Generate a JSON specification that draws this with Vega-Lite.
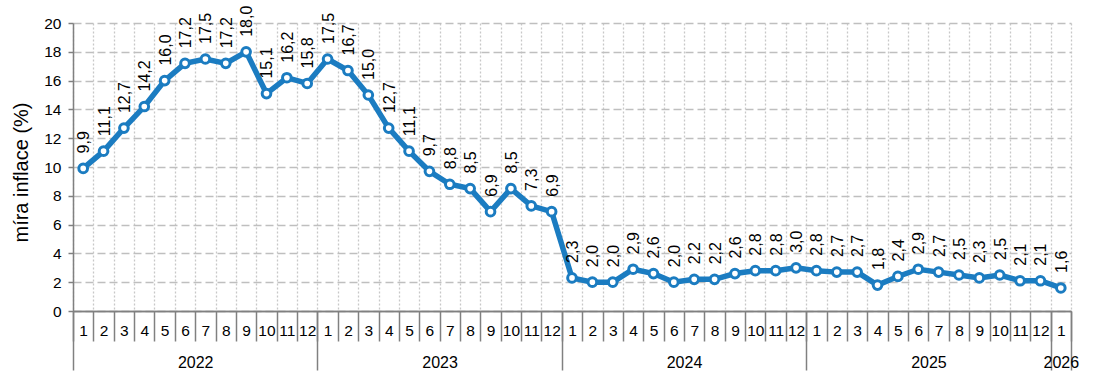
{
  "$schema": "https://vega.github.io/schema/vega-lite/v6.json",
  "width": 998,
  "height": 288,
  "autosize": {"type": "none"},
  "padding": {"left": 73, "top": 23, "right": 24, "bottom": 71},
  "config": {
    "view": {"stroke": null},
    "font": "Liberation Sans",
    "locale": {"number": {"decimal": ",", "thousands": " ", "grouping": [3], "currency": ["", " Kč"]}},
    "axis": {"labelColor": "#000000", "titleColor": "#000000", "domainColor": "#808080", "domainWidth": 1.5, "tickColor": "#808080", "tickWidth": 1.5}
  },
  "data": {"values": [
    {"period": "2022-01", "v": 9.9}, {"period": "2022-02", "v": 11.1}, {"period": "2022-03", "v": 12.7}, {"period": "2022-04", "v": 14.2},
    {"period": "2022-05", "v": 16.0}, {"period": "2022-06", "v": 17.2}, {"period": "2022-07", "v": 17.5}, {"period": "2022-08", "v": 17.2},
    {"period": "2022-09", "v": 18.0}, {"period": "2022-10", "v": 15.1}, {"period": "2022-11", "v": 16.2}, {"period": "2022-12", "v": 15.8},
    {"period": "2023-01", "v": 17.5}, {"period": "2023-02", "v": 16.7}, {"period": "2023-03", "v": 15.0}, {"period": "2023-04", "v": 12.7},
    {"period": "2023-05", "v": 11.1}, {"period": "2023-06", "v": 9.7}, {"period": "2023-07", "v": 8.8}, {"period": "2023-08", "v": 8.5},
    {"period": "2023-09", "v": 6.9}, {"period": "2023-10", "v": 8.5}, {"period": "2023-11", "v": 7.3}, {"period": "2023-12", "v": 6.9},
    {"period": "2024-01", "v": 2.3}, {"period": "2024-02", "v": 2.0}, {"period": "2024-03", "v": 2.0}, {"period": "2024-04", "v": 2.9},
    {"period": "2024-05", "v": 2.6}, {"period": "2024-06", "v": 2.0}, {"period": "2024-07", "v": 2.2}, {"period": "2024-08", "v": 2.2},
    {"period": "2024-09", "v": 2.6}, {"period": "2024-10", "v": 2.8}, {"period": "2024-11", "v": 2.8}, {"period": "2024-12", "v": 3.0},
    {"period": "2025-01", "v": 2.8}, {"period": "2025-02", "v": 2.7}, {"period": "2025-03", "v": 2.7}, {"period": "2025-04", "v": 1.8},
    {"period": "2025-05", "v": 2.4}, {"period": "2025-06", "v": 2.9}, {"period": "2025-07", "v": 2.7}, {"period": "2025-08", "v": 2.5},
    {"period": "2025-09", "v": 2.3}, {"period": "2025-10", "v": 2.5}, {"period": "2025-11", "v": 2.1}, {"period": "2025-12", "v": 2.1},
    {"period": "2026-01", "v": 1.6}
  ]},
  "layer": [
    {
      "encoding": {
        "x": {
          "field": "period", "type": "ordinal", "bandPosition": 0.5,
          "scale": {"type": "band", "paddingInner": 0, "paddingOuter": 0},
          "axis": {
            "orient": "bottom", "title": null, "labelAngle": 0, "labelExpr": "toNumber(split(datum.value, '-')[1])",
            "tickBand": "extent", "tickSize": 30, "labelPadding": -18, "labelFontSize": 15.5, "labelOverlap": false,
            "grid": true, "gridColor": "#c8c8c8", "gridDash": [2, 2], "gridWidth": 1.3
          }
        },
        "y": {
          "field": "v", "type": "quantitative",
          "scale": {"domain": [0, 20], "nice": false},
          "axis": {
            "title": "míra inflace (%)", "values": [0, 2, 4, 6, 8, 10, 12, 14, 16, 18, 20],
            "labelFontSize": 15.5, "labelPadding": 7, "tickSize": 5,
            "titleFontSize": 20, "titleFontWeight": "normal", "titleX": -52, "titleY": 149,
            "titleAngle": 270, "titleBaseline": "middle", "titleAlign": "center",
            "grid": true, "gridColor": "#bfbfbf", "gridDash": [8, 4], "gridWidth": 1.5
          }
        }
      },
      "layer": [
        {"mark": {"type": "line", "color": "#1B7CC1", "strokeWidth": 5.5}},
        {"mark": {"type": "point", "filled": true, "fill": "#ffffff", "stroke": "#1B7CC1", "strokeWidth": 3, "size": 75, "opacity": 1}},
        {"mark": {"type": "text", "angle": 270, "align": "left", "baseline": "middle", "dx": 15, "dy": 1, "fontSize": 16, "color": "#000000"},
         "encoding": {"text": {"field": "v", "type": "quantitative", "format": ".1f"}}}
      ]
    },
    {
      "mark": {"type": "rule", "opacity": 0},
      "encoding": {
        "x": {
          "datum": 0, "type": "quantitative",
          "scale": {"domain": [0, 49], "nice": false, "zero": false},
          "axis": {
            "orient": "bottom", "title": null, "grid": false, "values": [0, 6, 12, 18, 24, 30, 36, 42, 48, 48.5, 49],
            "labelExpr": "datum.value == 6 ? '2022' : datum.value == 18 ? '2023' : datum.value == 30 ? '2024' : datum.value == 42 ? '2025' : datum.value == 48.5 ? '2026' : ''",
            "tickOpacity": {"condition": {"test": "datum.value % 12 == 0 || datum.value == 49", "value": 1}, "value": 0},
            "tickSize": 59, "labelPadding": -16, "labelFontSize": 16, "labelFlush": false, "labelOverlap": false, "labelBound": false
          }
        }
      }
    }
  ],
  "resolve": {"scale": {"x": "independent"}, "axis": {"x": "independent"}}
}
